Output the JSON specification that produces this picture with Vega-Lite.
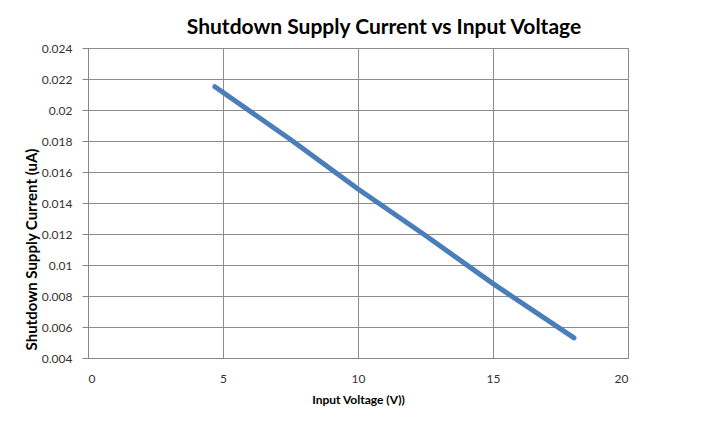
{
  "$schema": "https://vega.github.io/schema/vega-lite/v6.json",
  "width": 540,
  "height": 310,
  "autosize": {"type": "none"},
  "padding": {"left": 88, "top": 48, "right": 74, "bottom": 69},
  "background": "white",
  "title": {
    "text": "Shutdown Supply Current vs Input Voltage",
    "font": "Lato",
    "fontSize": 21,
    "fontWeight": "bold",
    "color": "#000000",
    "anchor": "middle",
    "dx": 26,
    "offset": 4
  },
  "config": {
    "view": {"stroke": "#868686", "strokeWidth": 1},
    "axis": {
      "labelFont": "Lato",
      "labelFontSize": 12,
      "labelColor": "#333333",
      "titleFont": "Lato",
      "titleFontSize": 12,
      "titleFontWeight": "bold",
      "titleColor": "#000000",
      "gridColor": "#8c8c8c",
      "gridOpacity": 1,
      "gridWidth": 1,
      "domainColor": "#868686",
      "tickColor": "#868686"
    }
  },
  "data": {
    "values": [
      {"v": 4.7, "i": 0.0215},
      {"v": 7.5, "i": 0.0181},
      {"v": 10, "i": 0.0149},
      {"v": 12.5, "i": 0.0119},
      {"v": 15, "i": 0.0088},
      {"v": 18, "i": 0.0053}
    ]
  },
  "mark": {"type": "line", "color": "#4A7EBB", "strokeWidth": 5, "strokeCap": "round", "strokeJoin": "round"},
  "encoding": {
    "x": {
      "field": "v",
      "type": "quantitative",
      "scale": {"domain": [0, 20], "nice": false},
      "axis": {
        "values": [0, 5, 10, 15, 20],
        "title": "Input Voltage (V))",
        "ticks": false,
        "labelPadding": 15,
        "titlePadding": 10
      }
    },
    "y": {
      "field": "i",
      "type": "quantitative",
      "scale": {"domain": [0.004, 0.024], "nice": false, "zero": false},
      "axis": {
        "values": [0.004, 0.006, 0.008, 0.01, 0.012, 0.014, 0.016, 0.018, 0.02, 0.022, 0.024],
        "format": "~g",
        "title": "Shutdown Supply Current (uA)",
        "titleFontSize": 15,
        "tickSize": 6,
        "labelPadding": 10,
        "titleX": -57,
        "titleY": 201,
        "titleAngle": -90,
        "titleAlign": "center",
        "titleBaseline": "middle"
      }
    }
  }
}
